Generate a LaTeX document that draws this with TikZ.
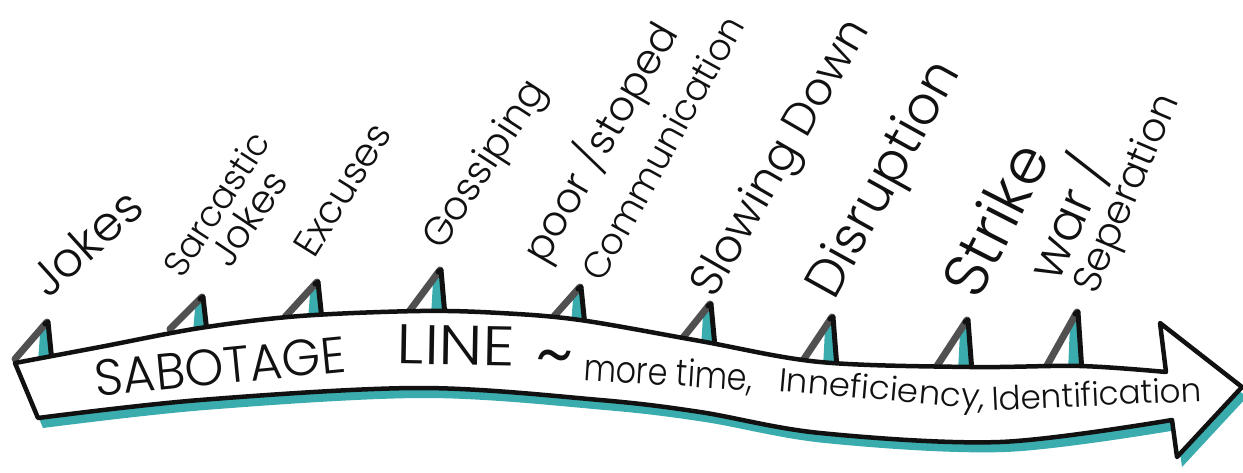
\documentclass[tikz,border=0pt]{standalone}
\usepackage{fontspec}
\setmainfont{Poppins Light}
\usepackage{graphicx}
\definecolor{tealc}{RGB}{58,172,174}
\definecolor{legg}{RGB}{80,80,80}
\definecolor{ink}{RGB}{17,17,17}
\newcommand{\rz}[2]{\resizebox{#1pt}{!}{#2}}
\newcommand{\rzh}[3]{\resizebox{#1pt}{#2pt}{#3}}
\newcommand{\arrowshape}[1]{%
  \path[#1] plot[smooth,tension=0.55] coordinates {(15,363) (100,347) (200,328) (300,316) (420,311) (500,313) (580,320) (700,341) (820,362) (970,367) (1080,366) (1166,372)}
  -- (1160,323) -- (1242,387) -- (1177,457) -- (1172,420)
  -- plot[smooth,tension=0.55] coordinates {(1172,420) (1000,442) (820,433) (700,412) (600,400) (420,388) (200,400) (38,418)} -- cycle;}
\newcommand{\tickmark}[3]{%
  \fill[tealc] (#1-7,#2+12) -- (#1,#2+4) -- (#1+3,#3+6) -- (#1-9,#3+6) -- cycle;
  \draw[legg, line width=7pt, line cap=round] (#1-32,#3+3) -- (#1,#2);
  \draw[ink, line width=5pt, line cap=round, line join=round] (#1-2,#2+2) -- (#1+1,#2) -- (#1+5,#3+6);
}
\begin{document}
\begin{tikzpicture}[x=1pt,y=-1pt,
  lbl/.style={anchor=base west, inner sep=0pt, text=ink},
  mid/.style={anchor=base, inner sep=0pt, text=ink}]
\useasboundingbox (0,0) rectangle (1243,472);
\fill[white] (0,0) rectangle (1243,472);
% shadow
\arrowshape{fill=tealc, shift={(5,10)}}
% ticks
\tickmark{47}{322}{356}
\tickmark{202}{297}{326}
\tickmark{317}{282}{314}
\tickmark{440}{270}{310}
\tickmark{580}{287}{320}
\tickmark{710}{304}{341}
\tickmark{832}{317}{362}
\tickmark{967}{320}{366}
\tickmark{1077}{312}{366}
% arrow body
\arrowshape{fill=white, draw=ink, line width=4.5pt, line join=round}
% text inside arrow
\node[mid, rotate=5.6] (sab) at (222,384) {\rzh{252}{36}{SABOTAGE}};
\node[mid, rotate=-1] (line) at (456,365) {\rzh{118}{39}{LINE}};
\node[lbl, rotate=-3] (tld) at (534,379) {\rz{38}{\textasciitilde}};
\node[lbl, rotate=-3.6] (more) at (583,380) {\rzh{169}{28}{more time,}};
\node[lbl, rotate=-5] (inef) at (778,391) {\rzh{207}{25}{Inneficiency,}};
\node[lbl, rotate=2.7] (ident) at (992,411) {\rzh{210}{25}{Identification}};
% labels
\node[lbl, rotate=42] (l1) at (48,300) {\rz{132}{Jokes}};
\node[lbl, rotate=57] (l2a) at (182,280) {\rz{164}{Sarcastic}};
\node[lbl, rotate=56] (l2b) at (230,270) {\rz{106}{Jokes}};
\node[lbl, rotate=58] (l3) at (314,260) {\rz{148}{Excuses}};
\node[lbl, rotate=57] (l4) at (442,252) {\rz{193}{Gossiping}};
\node[lbl, rotate=60] (l5a) at (545,266) {\rz{268}{poor /stoped}};
\node[lbl, rotate=61] (l5b) at (602,284) {\rz{296}{Communication}};
\node[lbl, rotate=60] (l6) at (714,300) {\rz{312}{Slowing Down}};
\node[lbl, rotate=61] (l7) at (834,302) {\rz{262}{Disruption}};
\node[lbl, rotate=63] (l8) at (978,302) {\rz{162}{Strike}};
\node[lbl, rotate=66] (l9a) at (1058,284) {\rz{128}{war /}};
\node[lbl, rotate=67] (l9b) at (1096,296) {\rz{212}{Seperation}};
\end{tikzpicture}
\end{document}
